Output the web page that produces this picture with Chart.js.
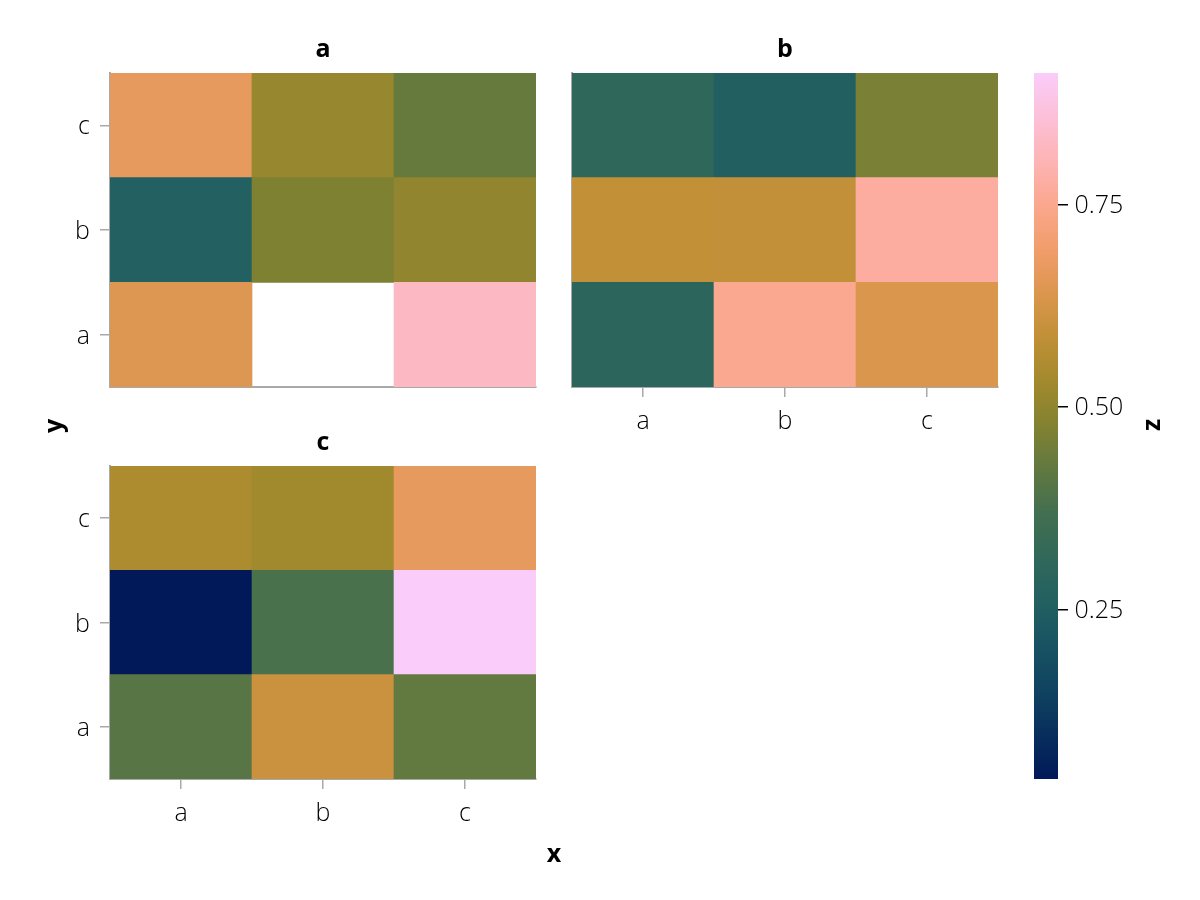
<!DOCTYPE html>
<html>
<head>
<meta charset="utf-8">
<script src="https://cdn.jsdelivr.net/npm/chart.js@4.4.1/dist/chart.umd.min.js"></script>
<style>
  html, body { margin: 0; padding: 0; background: #ffffff; }
  #stage { position: relative; width: 1200px; height: 900px; overflow: hidden; background: #ffffff; }
  canvas { position: absolute; }
  .lbl { position: absolute; font-family: 'Open Sans', 'Noto Sans', sans-serif; font-weight: 700; font-size: 25px;
         line-height: 30px; height: 30px; width: 40px; text-align: center; color: #000; }
</style>
</head>
<body>
<div id="stage">
  <canvas id="panelA"></canvas>
  <canvas id="panelB"></canvas>
  <canvas id="panelC"></canvas>
  <canvas id="cbar"></canvas>
  <div class="lbl" id="xLabel"></div>
  <div class="lbl" id="yLabel"></div>
  <div class="lbl" id="zLabel"></div>
</div>
<script>
// ---------------- data ----------------
const xCategories = ['a', 'b', 'c'];
const yCategories = ['a', 'b', 'c'];
const panelTitles = ['a', 'b', 'c'];
// rows follow yCategories (a, b, c), columns follow xCategories (a, b, c); null = missing
const zPanelA = [
  [0.647, null,  0.826],
  [0.260, 0.472, 0.503],
  [0.671, 0.512, 0.433]
];
const zPanelB = [
  [0.294, 0.752, 0.638],
  [0.588, 0.590, 0.774],
  [0.311, 0.254, 0.464]
];
const zPanelC = [
  [0.407, 0.606, 0.425],
  [0.0405, 0.381, 0.913],
  [0.551, 0.529, 0.669]
];
const colorbarTicks = [0.25, 0.50, 0.75];
const xAxisLabel = 'x';
const yAxisLabel = 'y';
const zAxisLabel = 'z';

// ---------------- colormap (batlow-like) ----------------
const batlowStops = [
  [0.0000, [1, 25, 89]],
  [0.0625, [8, 46, 92]],
  [0.1250, [16, 67, 96]],
  [0.1875, [24, 82, 98]],
  [0.2500, [34, 96, 97]],
  [0.3125, [48, 104, 90]],
  [0.3750, [66, 111, 80]],
  [0.4375, [96, 120, 65]],
  [0.5000, [130, 130, 49]],
  [0.5625, [162, 137, 45]],
  [0.6250, [192, 144, 54]],
  [0.6875, [219, 150, 78]],
  [0.7500, [241, 157, 107]],
  [0.8125, [251, 167, 142]],
  [0.8750, [253, 180, 180]],
  [0.9375, [252, 192, 216]],
  [1.0000, [250, 204, 250]]
];
function cmap(t) {
  t = Math.max(0, Math.min(1, t));
  for (let i = 1; i < batlowStops.length; i++) {
    const [t1, c1] = batlowStops[i];
    const [t0, c0] = batlowStops[i - 1];
    if (t <= t1) {
      const f = (t - t0) / (t1 - t0);
      const c = c0.map((v, k) => Math.round(v + (c1[k] - v) * f));
      return `rgb(${c[0]},${c[1]},${c[2]})`;
    }
  }
  const c = batlowStops[batlowStops.length - 1][1];
  return `rgb(${c[0]},${c[1]},${c[2]})`;
}
const allValues = [zPanelA, zPanelB, zPanelC].flat(2).filter(v => v !== null);
const zMin = Math.min(...allValues);
const zMax = Math.max(...allValues);
const colorOf = v => cmap((v - zMin) / (zMax - zMin));

// ---------------- styling ----------------
const GRAY = '#A9A9A9';
const FONT = "'Open Sans', 'Noto Sans', sans-serif";
const tickFont = { family: FONT, size: 25, weight: 300 };
const titleFont = { family: FONT, size: 25, weight: 700, lineHeight: 1.2 };
const TITLE_PAD = 7.8;

function place(canvas, left, top, w, h) {
  canvas.width = w; canvas.height = h;
  canvas.style.left = left + 'px'; canvas.style.top = top + 'px';
  canvas.style.width = w + 'px'; canvas.style.height = h + 'px';
}

function heatPanel(id, z, title, rect, showX, showY) {
  const YW = showY ? 110 : 20;
  const XH = showX ? 70 : 12;
  const TOP = 73;
  const RP = 10;
  const cv = document.getElementById(id);
  place(cv, rect.left - YW, rect.top - TOP,
        (rect.right - rect.left) + YW + RP, (rect.bottom - rect.top) + TOP + XH);
  const datasets = yCategories.map((yc, r) => ({
    label: yc,
    data: xCategories.map((xc, c) => z[r][c] === null ? null : [r, r + 1]),
    backgroundColor: xCategories.map((xc, c) => z[r][c] === null ? 'rgba(0,0,0,0)' : colorOf(z[r][c])),
    borderWidth: 0,
    grouped: false,
    barPercentage: 1,
    categoryPercentage: 1
  }));
  return new Chart(cv, {
    type: 'bar',
    data: { labels: xCategories, datasets },
    options: {
      responsive: false,
      animation: false,
      devicePixelRatio: 1,
      layout: { padding: { top: TOP - (titleFont.size * 1.2 + TITLE_PAD), right: RP, left: 0, bottom: 0 } },
      plugins: {
        legend: { display: false },
        tooltip: { enabled: false },
        title: {
          display: true, text: title, fullSize: false, color: '#000',
          font: titleFont, padding: { top: 0, bottom: TITLE_PAD }
        }
      },
      scales: {
        x: {
          type: 'category', offset: true, z: 1,
          ticks: { display: showX, padding: 9.5, font: tickFont, color: '#000', maxRotation: 0 },
          grid: { display: showX, offset: false, drawOnChartArea: false, drawTicks: true, tickLength: 10, color: GRAY, lineWidth: 1.5 },
          border: { display: true, color: GRAY, width: 2 },
          afterFit: s => { s.height = XH; s.paddingLeft = 0; s.paddingRight = 0; }
        },
        y: {
          type: 'linear', min: 0, max: yCategories.length, z: 1,
          afterBuildTicks: s => { s.ticks = yCategories.map((_, i) => ({ value: i + 0.5 })); },
          ticks: { display: showY, padding: 10, labelOffset: 2, font: tickFont, color: '#000', callback: (v, i) => yCategories[i] },
          grid: { display: showY, drawOnChartArea: false, drawTicks: true, tickLength: 10, color: GRAY, lineWidth: 1.5 },
          border: { display: true, color: GRAY, width: 2 },
          afterFit: s => { s.width = YW; s.paddingTop = 0; s.paddingBottom = 0; }
        }
      }
    }
  });
}

heatPanel('panelA', zPanelA, panelTitles[0], { left: 110, top: 73, right: 536, bottom: 387 }, false, true);
heatPanel('panelB', zPanelB, panelTitles[1], { left: 572, top: 73, right: 998, bottom: 387 }, true, false);
heatPanel('panelC', zPanelC, panelTitles[2], { left: 110, top: 466, right: 536, bottom: 779 }, true, true);

// ---------------- colorbar ----------------
(function () {
  const cv = document.getElementById('cbar');
  const AXW = 108;
  place(cv, 1034, 63, 24 + AXW, 779 - 73 + 20);
  new Chart(cv, {
    type: 'bar',
    data: {
      labels: [zAxisLabel],
      datasets: [{
        data: [[zMin, zMax]],
        borderWidth: 0,
        barPercentage: 1,
        categoryPercentage: 1,
        backgroundColor: (ctx) => {
          const ch = ctx.chart;
          const ys = ch.scales && ch.scales.y;
          if (!ch.chartArea || !ys) return '#808080';
          const g = ch.ctx.createLinearGradient(0, ys.getPixelForValue(zMin), 0, ys.getPixelForValue(zMax));
          batlowStops.forEach(([t, c]) => g.addColorStop(t, `rgb(${c[0]},${c[1]},${c[2]})`));
          return g;
        }
      }]
    },
    options: {
      responsive: false,
      animation: false,
      devicePixelRatio: 1,
      layout: { padding: { top: 10, bottom: 10, left: 0, right: 0 } },
      plugins: { legend: { display: false }, tooltip: { enabled: false }, title: { display: false } },
      scales: {
        x: { display: false, offset: true },
        y: {
          type: 'linear', position: 'right', min: zMin, max: zMax, z: 1,
          afterBuildTicks: s => { s.ticks = colorbarTicks.map(v => ({ value: v })); },
          ticks: { padding: 6.5, labelOffset: 1, font: tickFont, color: '#000', callback: v => Number(v).toFixed(2) },
          grid: { drawOnChartArea: false, drawTicks: true, tickLength: 10, color: '#000', lineWidth: 1.5 },
          border: { display: false },
          afterFit: s => { s.width = AXW; s.paddingTop = 0; s.paddingBottom = 0; }
        }
      }
    }
  });
})();

// ---------------- shared axis labels ----------------
function setLabel(id, text, cx, cy, rotate) {
  const el = document.getElementById(id);
  el.textContent = text;
  el.style.left = (cx - 20) + 'px';
  el.style.top = (cy - 15.5) + 'px';
  if (rotate) el.style.transform = 'rotate(-90deg)';
}
setLabel('xLabel', xAxisLabel, 554, 852, false);
setLabel('yLabel', yAxisLabel, 52, 426, true);
setLabel('zLabel', zAxisLabel, 1150, 425, true);
</script>
</body>
</html>
